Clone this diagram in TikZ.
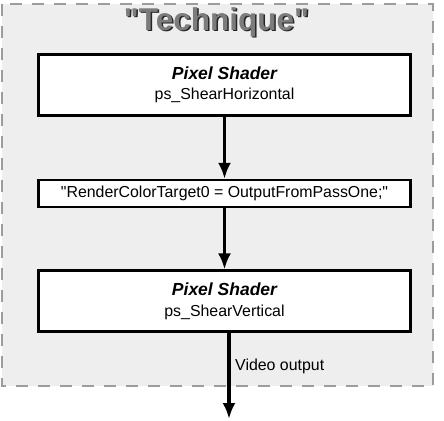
\documentclass[tikz,border=0pt]{standalone}
\usepackage{fontspec}
\setmainfont{Liberation Sans}[Ligatures=TeXOff]
\usetikzlibrary{positioning,arrows.meta}
\definecolor{techfill}{HTML}{EEEEEE}
\definecolor{techedge}{HTML}{9C9C9C}
\definecolor{techtitle}{HTML}{7C7C7C}
\newcommand\shadername{\fontsize{17.5}{20.5}\selectfont\bfseries\itshape Pixel Shader}
\begin{document}
\begin{tikzpicture}
    [ x = 1pt, y = -1pt
    , font = \fontsize{15.9}{20.5}\selectfont
    , technique/.style =
      { draw = techedge, fill = techfill, line width = 2.5pt
      , dash pattern = on 12pt off 10pt }
    , shader/.style =
      { draw, fill = white, line width = 2.6pt, align = center
      , minimum width = 372pt, inner sep = 0pt }
    , flow/.style =
      { line width = 3.5pt, -{Latex[length=16pt,width=13pt]} }
    ]
    \useasboundingbox (0,0) rectangle (444,420);
    \draw [technique] (2,4) rectangle (433,386);
    \node [text = black!85, font = \fontsize{31.5}{32}\bfseries] (shadow) at (218,23.5) {"Technique"};
    \node [text = techtitle, font = \fontsize{31.5}{32}\bfseries] (title) at (216.5,22) {"Technique"};

    \node [shader, minimum height = 61pt] (pass1) at (224.5,85)
      {{\shadername}\\ps\_ShearHorizontal};
    \node [shader, minimum height = 27pt] (target) [below=62pt of pass1]
      {"RenderColorTarget0 = OutputFromPassOne;"};
    \node [shader, minimum height = 61pt] (pass2) [below=61pt of target]
      {{\shadername}\\ps\_ShearVertical};
    \coordinate (out) at (229,419);
    \node [anchor = west, inner sep = 0pt] (video) at (235,366) {Video output};

    \draw [flow] (pass1) -- (target);
    \draw [flow] (target) -- (pass2);
    \draw [flow] (pass2.south -| out) -- (out);
\end{tikzpicture}
\end{document}
